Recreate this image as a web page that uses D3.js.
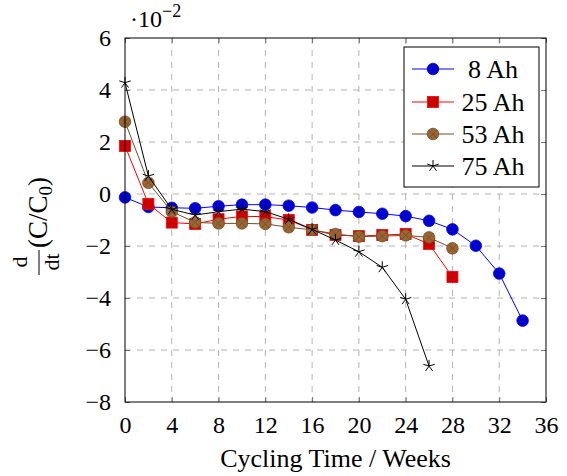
<!DOCTYPE html>
<html>
<head>
<meta charset="utf-8">
<script src="https://cdn.jsdelivr.net/npm/d3@7"></script>
<style>
  body { margin: 0; background: #fff; }
  svg text { font-family: "Liberation Serif", "DejaVu Serif", serif; fill: #000; }
</style>
</head>
<body>
<svg id="chart" width="567" height="476"></svg>
<script>
// weeks for each series
const weeks8 = [0, 2, 4, 6, 8, 10, 12, 14, 16, 18, 20, 22, 24, 26, 28, 30, 32, 34];
const weeks25 = [0, 2, 4, 6, 8, 10, 12, 14, 16, 18, 20, 22, 24, 26, 28];
const weeks53 = [0, 2, 4, 6, 8, 10, 12, 14, 16, 18, 20, 22, 24, 26, 28];
const weeks75 = [0, 2, 4, 6, 8, 10, 12, 14, 16, 18, 20, 22, 24, 26];

// d/dt (C/C0), in units of 1e-2
const vals8 = [-0.13, -0.5, -0.53, -0.55, -0.47, -0.41, -0.41, -0.45, -0.52, -0.62, -0.69, -0.76, -0.85, -1.03, -1.36, -1.99, -3.06, -4.87];
const vals25 = [1.85, -0.38, -1.1, -1.15, -0.97, -0.86, -0.87, -1.0, -1.38, -1.58, -1.62, -1.58, -1.54, -1.92, -3.19];
const vals53 = [2.78, 0.43, -0.68, -1.09, -1.13, -1.13, -1.15, -1.28, -1.38, -1.54, -1.64, -1.62, -1.59, -1.67, -2.09];
const vals75 = [4.28, 0.69, -0.59, -0.81, -0.68, -0.58, -0.68, -0.97, -1.36, -1.77, -2.22, -2.82, -4.05, -6.62];

const labels = ["8 Ah", "25 Ah", "53 Ah", "75 Ah"];
const xTicks = [0, 4, 8, 12, 16, 20, 24, 28, 32, 36];
const yTicks = [-8, -6, -4, -2, 0, 2, 4, 6];

const series = [
  {name: labels[0], x: weeks8, y: vals8, stroke: "#0000ff", fill: "#0000cc", mark: "circle"},
  {name: labels[1], x: weeks25, y: vals25, stroke: "#ff0000", fill: "#cc0000", mark: "square"},
  {name: labels[2], x: weeks53, y: vals53, stroke: "#734d26", fill: "#996633", mark: "otimes"},
  {name: labels[3], x: weeks75, y: vals75, stroke: "#000000", fill: "none", mark: "star"}
];

const FONT = '"Liberation Serif", "DejaVu Serif", serif';
const svg = d3.select("#chart");
const m = {left: 125, right: 546, top: 38, bottom: 402};

const x = d3.scaleLinear().domain([0, 36]).range([m.left, m.right]);
const y = d3.scaleLinear().domain([-8, 6]).range([m.bottom, m.top]);

// grid
const grid = svg.append("g");
grid.selectAll(".gx").data(xTicks.slice(1, -1)).enter().append("line")
  .attr("x1", d => x(d)).attr("x2", d => x(d))
  .attr("y1", m.top).attr("y2", m.bottom)
  .attr("stroke", "#b3b3b3").attr("stroke-width", 1).attr("stroke-dasharray", "6,6");
grid.selectAll(".gy").data(yTicks.slice(1, -1)).enter().append("line")
  .attr("x1", m.left).attr("x2", m.right)
  .attr("y1", d => y(d)).attr("y2", d => y(d))
  .attr("stroke", "#b3b3b3").attr("stroke-width", 1).attr("stroke-dasharray", "6,6");

// axes (ticks inward, on both sides)
const tl = 5;
const axisBottom = d3.axisBottom(x).tickValues(xTicks).tickSize(-tl).tickPadding(14).tickFormat(d3.format("d"));
const axisTop = d3.axisTop(x).tickValues(xTicks).tickSize(-tl).tickFormat("");
const axisLeft = d3.axisLeft(y).tickValues(yTicks).tickSize(-tl).tickPadding(14)
  .tickFormat(d => d < 0 ? "\u2212" + Math.abs(d) : d);
const axisRight = d3.axisRight(y).tickValues(yTicks).tickSize(-tl).tickFormat("");

function styleAxis(g) {
  g.attr("font-family", FONT).attr("font-size", 24);
  g.select(".domain").remove();
  g.selectAll(".tick line").attr("stroke", "#555").attr("stroke-width", 0.8);
  g.selectAll(".tick text").style("font-family", FONT).style("font-size", "24px");
}
svg.append("g").attr("transform", `translate(0,${m.bottom})`).call(axisBottom).call(styleAxis);
svg.append("g").attr("transform", `translate(0,${m.top})`).call(axisTop).call(styleAxis);
svg.append("g").attr("transform", `translate(${m.left},0)`).call(axisLeft).call(styleAxis);
svg.append("g").attr("transform", `translate(${m.right},0)`).call(axisRight).call(styleAxis);

// marker drawing
function drawMark(g, s, cx, cy) {
  if (s.mark === "circle") {
    g.append("circle").attr("cx", cx).attr("cy", cy).attr("r", 5.8)
      .attr("fill", s.fill).attr("stroke", s.stroke).attr("stroke-width", 0.8);
  } else if (s.mark === "square") {
    g.append("rect").attr("x", cx - 5.5).attr("y", cy - 5.5).attr("width", 11).attr("height", 11)
      .attr("fill", s.fill).attr("stroke", s.stroke).attr("stroke-width", 0.8);
  } else if (s.mark === "otimes") {
    const r = 5.8, k = r * Math.SQRT1_2;
    g.append("circle").attr("cx", cx).attr("cy", cy).attr("r", r)
      .attr("fill", s.fill).attr("stroke", s.stroke).attr("stroke-width", 0.8);
    g.append("path")
      .attr("d", `M${cx - k},${cy - k}L${cx + k},${cy + k}M${cx - k},${cy + k}L${cx + k},${cy - k}`)
      .attr("stroke", s.stroke).attr("stroke-width", 0.8);
  } else if (s.mark === "star") {
    const r = 6;
    let d = "";
    for (let i = 0; i < 5; i++) {
      const a = -Math.PI / 2 + i * 2 * Math.PI / 5;
      d += `M${cx},${cy}L${cx + r * Math.cos(a)},${cy + r * Math.sin(a)}`;
    }
    g.append("path").attr("d", d).attr("stroke", s.stroke).attr("stroke-width", 1).attr("fill", "none");
  }
}

// series
const line = d3.line().x(d => x(d[0])).y(d => y(d[1]));
series.forEach(s => {
  const pts = s.x.map((v, i) => [v, s.y[i]]);
  const g = svg.append("g");
  g.append("path").datum(pts).attr("d", line)
    .attr("fill", "none").attr("stroke", s.stroke).attr("stroke-width", 1);
  pts.forEach(p => drawMark(g, s, x(p[0]), y(p[1])));
});

// frame
svg.append("rect").attr("x", m.left).attr("y", m.top).attr("width", m.right - m.left).attr("height", m.bottom - m.top)
  .attr("fill", "none").attr("stroke", "#000").attr("stroke-width", 1);

// scale label
const sc = svg.append("text").attr("x", 130).attr("y", 27).style("font-family", FONT).attr("font-size", 24);
sc.append("tspan").text("\u00b710");
sc.append("tspan").attr("dy", -10).attr("font-size", 18).text("\u22122");

// x label
svg.append("text").attr("x", (m.left + m.right) / 2).attr("y", 467).style("font-family", FONT)
  .attr("text-anchor", "middle").attr("font-size", 26).text("Cycling Time / Weeks");

// y label: d/dt (C/C0), rotated
const yl = svg.append("g").attr("transform", "rotate(-90)").style("font-family", FONT);
yl.append("text").attr("x", -262).attr("y", 27).attr("text-anchor", "middle").attr("font-size", 22).text("d");
yl.append("text").attr("x", -262).attr("y", 59).attr("text-anchor", "middle").attr("font-size", 22).text("dt");
yl.append("line").attr("x1", -275).attr("x2", -250).attr("y1", 39).attr("y2", 39)
  .attr("stroke", "#000").attr("stroke-width", 1);
const frac = yl.append("text").attr("x", -248).attr("y", 47).attr("font-size", 27);
frac.append("tspan").text("(C/C");
frac.append("tspan").attr("dy", 5).attr("font-size", 19).text("0");
frac.append("tspan").attr("dy", -5).text(")");

// legend
const lg = svg.append("g").style("font-family", FONT);
lg.append("rect").attr("x", 404).attr("y", 47).attr("width", 135).attr("height", 140)
  .attr("fill", "#fff").attr("stroke", "#000").attr("stroke-width", 1);
const legY = [69, 102, 134, 166];
series.forEach((s, i) => {
  const ly = legY[i];
  lg.append("line").attr("x1", 412).attr("x2", 454).attr("y1", ly).attr("y2", ly)
    .attr("stroke", s.stroke).attr("stroke-width", 1);
  drawMark(lg, s, 433, ly);
  lg.append("text").attr("x", 493).attr("y", ly + 9).attr("text-anchor", "middle")
    .attr("font-size", 26).text(s.name);
});
</script>
</body>
</html>
